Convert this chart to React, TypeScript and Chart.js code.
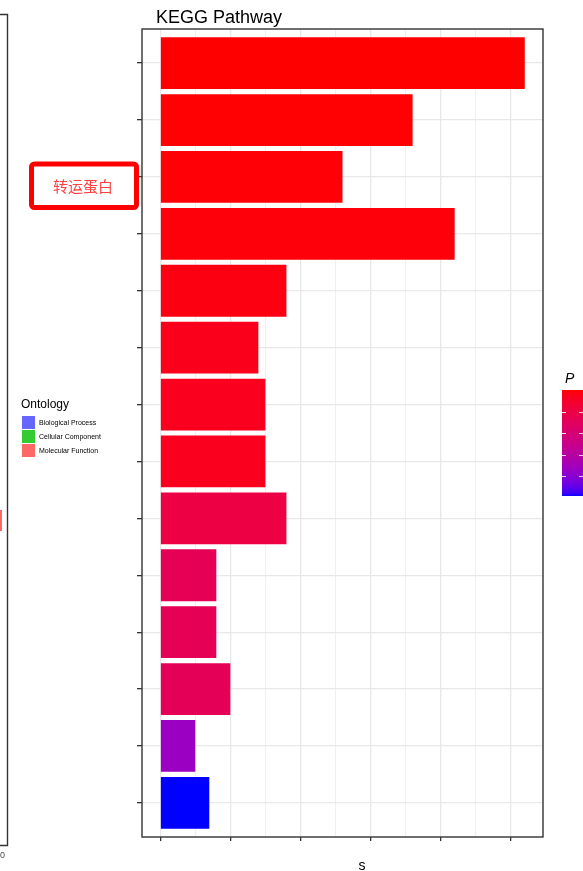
import React, { useEffect, useRef } from "react";
import { Chart, registerables } from "chart.js";

Chart.register(...registerables);

// ---- data ----
const categories = [
  "Pathway 1", "Pathway 2", "Pathway 3", "Pathway 4", "Pathway 5", "Pathway 6", "Pathway 7",
  "Pathway 8", "Pathway 9", "Pathway 10", "Pathway 11", "Pathway 12", "Pathway 13", "Pathway 14",
];
const counts = [52, 36, 26, 42, 18, 14, 15, 15, 18, 8, 8, 10, 5, 7];
const pValues = [0.0502, 0.05, 0.0498, 0.0494, 0.0487, 0.0477, 0.0472, 0.0472, 0.0403, 0.0366, 0.0366, 0.0362, 0.0132, 0.0008];
const xMajorTicks = [0, 10, 20, 30, 40, 50];
const xAllTicks = [0, 5, 10, 15, 20, 25, 30, 35, 40, 45, 50];
const colorbarTicks = [0.01, 0.02, 0.03, 0.04];
const ontologyLabels = ["Biological Process", "Cellular Component", "Molecular Function"];
const ontologyColors = ["#6666FF", "#33CC33", "#FF6666"];
const titleText = "KEGG Pathway";
const annotationText = "转运蛋白";

// ---- colour scale (Lab interpolation blue -> red) ----
function srgbToLin(c: number) {
  c /= 255;
  return c <= 0.04045 ? c / 12.92 : Math.pow((c + 0.055) / 1.055, 2.4);
}
function linToSrgb(c: number) {
  c = Math.max(0, Math.min(1, c));
  const v = c <= 0.0031308 ? 12.92 * c : 1.055 * Math.pow(c, 1 / 2.4) - 0.055;
  return Math.round(Math.max(0, Math.min(1, v)) * 255);
}
function rgbToLab(r: number, g: number, b: number) {
  const R = srgbToLin(r), G = srgbToLin(g), B = srgbToLin(b);
  const X = (0.4124 * R + 0.3576 * G + 0.1805 * B) / 0.95047;
  const Y = 0.2126 * R + 0.7152 * G + 0.0722 * B;
  const Z = (0.0193 * R + 0.1192 * G + 0.9505 * B) / 1.08883;
  const f = (t: number) => (t > 0.008856 ? Math.cbrt(t) : 7.787 * t + 16 / 116);
  const fx = f(X), fy = f(Y), fz = f(Z);
  return [116 * fy - 16, 500 * (fx - fy), 200 * (fy - fz)];
}
function labToRgb(L: number, a: number, b: number) {
  const fy = (L + 16) / 116, fx = fy + a / 500, fz = fy - b / 200;
  const inv = (t: number) => (t > 0.206893 ? t * t * t : (t - 16 / 116) / 7.787);
  const X = inv(fx) * 0.95047, Y = inv(fy), Z = inv(fz) * 1.08883;
  const R = 3.2406 * X - 1.5372 * Y - 0.4986 * Z;
  const G = -0.9689 * X + 1.8758 * Y + 0.0415 * Z;
  const B = 0.0557 * X - 0.204 * Y + 1.057 * Z;
  return `rgb(${linToSrgb(R)},${linToSrgb(G)},${linToSrgb(B)})`;
}
const LOW = rgbToLab(0, 0, 255);
const HIGH = rgbToLab(255, 0, 0);
const pMin = Math.min(...pValues);
const pMax = Math.max(...pValues);
function colorFor(p: number) {
  const t = Math.max(0, Math.min(1, (p - pMin) / (pMax - pMin)));
  return labToRgb(
    LOW[0] + (HIGH[0] - LOW[0]) * t,
    LOW[1] + (HIGH[1] - LOW[1]) * t,
    LOW[2] + (HIGH[2] - LOW[2]) * t
  );
}

const SANS = '"Liberation Sans", Arial, sans-serif';

const decorPlugin = {
  id: "decor",
  afterDraw(chart: any) {
    const ctx = chart.ctx as CanvasRenderingContext2D;
    const a = chart.chartArea;
    ctx.save();
    // panel border
    ctx.strokeStyle = "#333333";
    ctx.lineWidth = 1.4;
    ctx.strokeRect(a.left, a.top, a.right - a.left, a.bottom - a.top);

    // title
    ctx.fillStyle = "#000000";
    ctx.font = `18px ${SANS}`;
    ctx.textAlign = "left";
    ctx.textBaseline = "alphabetic";
    ctx.fillText(titleText, 156, 23);

    // x axis title (cropped)
    ctx.font = `14px ${SANS}`;
    ctx.textAlign = "center";
    ctx.fillText("s", 362, 870);

    // left partial panel
    ctx.strokeStyle = "#333333";
    ctx.lineWidth = 1.4;
    ctx.beginPath();
    ctx.moveTo(0, 14.5);
    ctx.lineTo(7.5, 14.5);
    ctx.lineTo(7.5, 845.5);
    ctx.lineTo(0, 845.5);
    ctx.stroke();
    ctx.fillStyle = "#FF6666";
    ctx.fillRect(0, 510, 2, 21);
    ctx.fillStyle = "#4D4D4D";
    ctx.font = `9px ${SANS}`;
    ctx.textAlign = "left";
    ctx.fillText("0", 0, 858);

    // ontology legend
    ctx.fillStyle = "#000000";
    ctx.font = `12px ${SANS}`;
    ctx.fillText("Ontology", 21, 408);
    ontologyLabels.forEach((lab, i) => {
      const y = 416 + i * 14;
      ctx.fillStyle = ontologyColors[i];
      ctx.fillRect(22, y, 13, 13);
      ctx.fillStyle = "#000000";
      ctx.font = `7px ${SANS}`;
      ctx.textBaseline = "middle";
      ctx.fillText(lab, 39, y + 7);
    });
    ctx.textBaseline = "alphabetic";

    // colour bar
    const cbX = 562, cbW = 22, cbTop = 390, cbBot = 496;
    for (let y = cbTop; y < cbBot; y++) {
      const t = 1 - (y + 0.5 - cbTop) / (cbBot - cbTop);
      ctx.fillStyle = colorFor(pMin + t * (pMax - pMin));
      ctx.fillRect(cbX, y, cbW, 1);
    }
    ctx.strokeStyle = "rgba(255,255,255,0.85)";
    ctx.lineWidth = 1.2;
    colorbarTicks.forEach((v) => {
      const t = (v - pMin) / (pMax - pMin);
      const y = Math.round(cbBot - t * (cbBot - cbTop)) + 0.5;
      ctx.beginPath();
      ctx.moveTo(cbX, y);
      ctx.lineTo(cbX + 4, y);
      ctx.moveTo(cbX + 17, y);
      ctx.lineTo(cbX + 21, y);
      ctx.stroke();
    });
    ctx.fillStyle = "#000000";
    ctx.font = `italic 14px ${SANS}`;
    ctx.fillText("P", 565, 383);

    // annotation box
    ctx.strokeStyle = "#FF0000";
    ctx.lineWidth = 5;
    ctx.beginPath();
    (ctx as any).roundRect(31.5, 164, 105, 43.5, 3);
    ctx.stroke();
    ctx.fillStyle = "#FF4040";
    ctx.font = `15px "Noto Sans CJK SC"`;
    ctx.textAlign = "center";
    ctx.textBaseline = "middle";
    ctx.fillText(annotationText, 83, 186);
    ctx.restore();
  },
};

export default function App() {
  const ref = useRef<HTMLCanvasElement | null>(null);
  useEffect(() => {
    if (!ref.current) return;
    const chart = new Chart(ref.current, {
      type: "bar",
      data: {
        labels: categories,
        datasets: [
          {
            label: "Count",
            data: categories.map((_, i) => ({ x: counts[i], y: i + 1 })) as any,
            backgroundColor: pValues.map(colorFor),
            barPercentage: 0.91,
            categoryPercentage: 1.0,
            borderWidth: 0,
          },
        ],
      },
      options: {
        indexAxis: "y",
        responsive: false,
        animation: false,
        devicePixelRatio: 1,
        layout: { padding: { left: 137, right: 40, top: 29, bottom: 30 } },
        plugins: { legend: { display: false }, title: { display: false }, tooltip: { enabled: false } },
        events: [],
        scales: {
          x: {
            type: "linear",
            min: -2.6,
            max: 54.6,
            bounds: "data",
            offset: false,
            afterBuildTicks: (s: any) => {
              s.ticks = xAllTicks.map((v) => ({ value: v }));
            },
            afterFit: (s: any) => {
              s.height = 4;
            },
            ticks: { display: false },
            border: { display: false },
            grid: {
              offset: false,
              color: (c: any) => (c.tick && xMajorTicks.includes(c.tick.value) ? "#E8E8E8" : "#F0F0F0"),
              lineWidth: (c: any) => (c.tick && xMajorTicks.includes(c.tick.value) ? 1.3 : 1),
              tickColor: (c: any) => (c.tick && xMajorTicks.includes(c.tick.value) ? "#333333" : "rgba(0,0,0,0)"),
              tickLength: 4,
              tickWidth: 1.3,
            },
          },
          y: {
            type: "linear",
            reverse: true,
            min: 0.4,
            max: 14.6,
            bounds: "data",
            offset: false,
            afterBuildTicks: (s: any) => {
              s.ticks = categories.map((_, i) => ({ value: i + 1 }));
            },
            afterFit: (s: any) => {
              s.width = 5;
            },
            ticks: { display: false },
            border: { display: false },
            grid: { offset: false, color: "#E8E8E8", lineWidth: 1.3, tickColor: "#333333", tickLength: 5, tickWidth: 1.3 },
          },
        },
      } as any,
      plugins: [decorPlugin],
    });
    return () => chart.destroy();
  }, []);
  return (
    <div style={{ position: "absolute", left: 0, top: 0, width: 583, height: 871, background: "#fff" }}>
      <canvas ref={ref} width={583} height={871} style={{ display: "block" }} />
    </div>
  );
}
